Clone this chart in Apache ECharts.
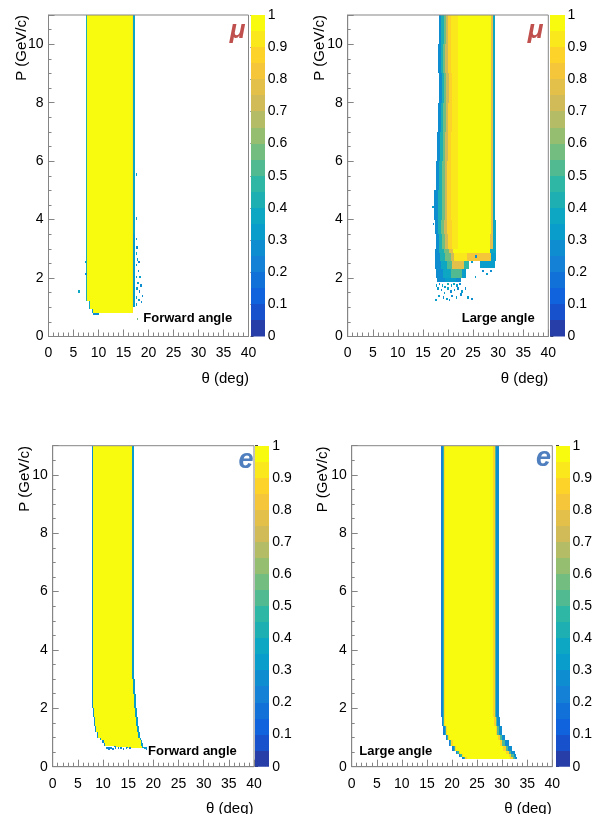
<!DOCTYPE html>
<html><head><meta charset="utf-8">
<script src="https://cdn.jsdelivr.net/npm/echarts@6/dist/echarts.min.js"></script>
<style>html,body{margin:0;padding:0;background:#fff}#c{width:595px;height:814px}</style>
</head><body><div id="c"></div>
<script>
// ---------------- DATA ----------------
const thetaTicks = [0, 5, 10, 15, 20, 25, 30, 35, 40];
const pTicks = [0, 2, 4, 6, 8, 10];
const zTicks = [0, 0.1, 0.2, 0.3, 0.4, 0.5, 0.6, 0.7, 0.8, 0.9, 1];

// Forward-angle muons: rectangles [theta0, theta1, P0, P1, efficiency]
const muFwdStrips = [
  [7.6, 16.6, 1.2, 11, 1.0],
  [8.2, 16.6, 0.95, 1.2, 1.0],
  [8.8, 16.6, 0.8, 0.95, 1.0],
  [16.6, 16.8, 0.8, 11, 0.92],
  [16.8, 17.3, 3.5, 11, 0.35],
  [16.8, 17.3, 1.0, 3.5, 0.3],
  [7.4, 7.6, 1.2, 11, 0.4],
  [8.0, 8.2, 0.95, 1.2, 0.35],
  [8.6, 8.8, 0.8, 0.95, 0.3],
  [8.8, 10.0, 0.74, 0.8, 0.25]
];
// isolated filled bins [theta, P, efficiency]
const muFwdSpecks = [
  [17.4,3.3,0.3],[17.5,3.0,0.25],[17.4,2.8,0.35],[17.6,2.6,0.3],[17.9,2.5,0.2],[17.4,2.4,0.3],
  [17.8,2.2,0.25],[18.1,2.0,0.3],[17.4,2.0,0.35],[17.7,1.8,0.3],[18.3,1.7,0.25],[17.5,1.6,0.3],
  [18.0,1.5,0.2],[18.6,1.35,0.25],[17.4,1.3,0.35],[17.9,1.2,0.3],[18.4,1.15,0.25],[17.4,1.05,0.3],
  [5.9,1.5,0.35],[17.6,0.55,0.55],[7.2,2.5,0.3],[7.3,2.1,0.25],[17.4,4.0,0.3],[17.4,5.5,0.3]
];

// Large-angle muons, P > 3: rows [P0, P1, theta edges...], one efficiency per strip
const muLargeRows = [
  [10, 11, 18.2, 18.7, 19.2, 19.6, 20.0, 20.6, 22.0, 28.5, 28.9, 29.4],
  [9, 10, 18.0, 18.6, 19.1, 19.5, 20.0, 20.6, 22.0, 28.5, 28.9, 29.3],
  [8, 9, 18.3, 18.8, 19.2, 19.6, 20.1, 20.7, 22.0, 28.5, 28.9, 29.4],
  [7, 8, 18.1, 18.7, 19.1, 19.6, 20.0, 20.7, 22.0, 28.5, 28.9, 29.4],
  [6, 7, 17.9, 18.5, 19.0, 19.5, 20.0, 20.6, 22.0, 28.5, 28.9, 29.3],
  [5, 6, 17.6, 18.3, 18.9, 19.4, 19.9, 20.6, 22.0, 28.5, 28.9, 29.4],
  [4, 5, 17.2, 18.1, 18.8, 19.4, 19.9, 20.6, 22.0, 28.5, 28.9, 29.4],
  [3.5, 4, 17.4, 18.0, 18.7, 19.3, 19.9, 20.7, 22.0, 28.5, 28.9, 29.5],
  [3.0, 3.5, 17.6, 18.2, 18.8, 19.4, 20.0, 20.8, 22.0, 28.4, 28.9, 29.5]
];
const muLargeEff = [0.25, 0.4, 0.55, 0.7, 0.85, 0.93, 1.0, 0.75, 0.35];
// Large-angle muons, P < 3: rectangles [theta0, theta1, P0, P1, efficiency]
const muLargeStrips = [
  [17.5, 18.3, 2.85, 3.0, 0.25], [18.3, 19.2, 2.85, 3.0, 0.4], [19.2, 20.2, 2.85, 3.0, 0.55],
  [20.2, 21.0, 2.85, 3.0, 0.75], [21.0, 28.4, 2.85, 3.0, 0.97], [28.4, 29.5, 2.85, 3.0, 0.35],
  [17.5, 18.5, 2.6, 2.85, 0.25], [18.5, 19.5, 2.6, 2.85, 0.4], [19.5, 20.5, 2.6, 2.85, 0.55],
  [20.5, 21.2, 2.6, 2.85, 0.7], [21.2, 23.8, 2.6, 2.85, 0.9], [23.8, 28.6, 2.6, 2.85, 0.8],
  [28.6, 29.5, 2.6, 2.85, 0.3],
  [17.4, 18.6, 2.3, 2.6, 0.25], [18.6, 19.8, 2.3, 2.6, 0.35], [19.8, 20.8, 2.3, 2.6, 0.5],
  [20.8, 23.2, 2.3, 2.6, 0.75], [23.2, 24.2, 2.3, 2.6, 0.45], [26.4, 29.4, 2.35, 2.6, 0.3],
  [17.6, 19.0, 2.0, 2.3, 0.25], [19.0, 20.6, 2.0, 2.3, 0.35], [20.6, 22.8, 2.0, 2.3, 0.5],
  [22.8, 23.6, 2.0, 2.3, 0.3],
  [17.8, 19.5, 1.85, 2.0, 0.25], [19.5, 21.5, 1.85, 2.0, 0.3], [21.5, 22.5, 1.85, 2.0, 0.25]
];
const muLargeSpecks = [
  [17.6,1.7,0.3],[18.2,1.75,0.25],[18.8,1.7,0.35],[19.3,1.65,0.3],[19.9,1.75,0.4],[20.5,1.7,0.3],
  [21.0,1.75,0.35],[21.6,1.7,0.3],[22.2,1.75,0.25],[17.9,1.6,0.3],[18.6,1.55,0.25],[19.2,1.45,0.3],
  [19.8,1.6,0.35],[20.4,1.5,0.25],[21.1,1.55,0.3],[21.8,1.6,0.25],[22.6,1.5,0.3],[23.3,1.6,0.25],
  [18.1,1.35,0.3],[19.0,1.3,0.25],[19.7,1.25,0.3],[20.6,1.35,0.25],[21.5,1.3,0.3],[22.4,1.4,0.25],
  [23.8,1.3,0.3],[24.6,1.25,0.25],[17.5,1.2,0.3],[20.1,1.2,0.25],[16.9,4.4,0.3],[17.0,3.8,0.25],
  [26.8,2.2,0.25],[27.6,2.1,0.3],[28.4,2.2,0.25],[25.3,2.0,0.3],[24.6,2.5,0.3],[25.4,2.7,0.25]
];

// Forward-angle electrons: rows [P0, P1, theta edges...]; one efficiency per strip
const eFwdRows = [
  [3.0, 11.0, 7.75, 8.0, 15.8, 16.1],
  [2.5, 3.0, 7.8, 8.05, 16.0, 16.3],
  [2.0, 2.5, 7.85, 8.1, 16.2, 16.5],
  [1.7, 2.0, 7.95, 8.2, 16.4, 16.7],
  [1.4, 1.7, 8.15, 8.4, 16.6, 16.9],
  [1.2, 1.4, 8.45, 8.7, 16.8, 17.1],
  [1.0, 1.2, 8.8, 9.1, 17.0, 17.3],
  [0.9, 1.0, 9.3, 9.6, 17.3, 17.6],
  [0.8, 0.9, 9.8, 10.1, 17.5, 17.8],
  [0.72, 0.8, 10.1, 10.4, 17.6, 17.9],
  [0.67, 0.72, 12.2, 12.5, 17.7, 18.0],
  [0.63, 0.67, 14.7, 15.0, 17.8, 18.2]
];
const eFwdEff = [0.25, 1.0, 0.3];
const eFwdSpecks = [
  [10.6,0.6,0.25],[11.0,0.58,0.2],[11.4,0.61,0.25],[11.8,0.57,0.2],[12.3,0.6,0.25],[12.9,0.59,0.2],
  [13.4,0.61,0.25],[13.9,0.57,0.2],[14.5,0.6,0.25],[15.2,0.61,0.2],[18.2,0.6,0.3],[18.5,0.58,0.25]
];

// Large-angle electrons
const eLargeRows = [
  [1.7, 11, 17.9, 18.2, 18.4, 18.6, 28.2, 28.5, 28.8, 29.3],
  [1.4, 1.7, 18.0, 18.3, 18.5, 18.7, 28.4, 28.7, 29.0, 29.6],
  [1.1, 1.4, 18.3, 18.6, 18.8, 19.0, 28.7, 29.0, 29.4, 30.0],
  [0.9, 1.1, 18.8, 19.1, 19.3, 19.5, 29.1, 29.5, 29.9, 30.6],
  [0.7, 0.9, 19.4, 19.7, 19.9, 20.1, 29.6, 30.0, 30.5, 31.3],
  [0.55, 0.7, 20.0, 20.3, 20.5, 20.8, 30.2, 30.7, 31.2, 31.9],
  [0.42, 0.55, 20.7, 21.0, 21.3, 21.6, 30.8, 31.3, 31.8, 32.5],
  [0.34, 0.42, 21.3, 21.6, 21.9, 22.2, 31.3, 31.8, 32.3, 32.8],
  [0.28, 0.34, 22.0, 22.3, 22.6, 22.9, 31.6, 32.1, 32.5, 33.0]
];
const eLargeEff = [0.22, 0.45, 0.85, 1.0, 0.85, 0.5, 0.25];

// ---------------- helpers ----------------
const FONT = "'Liberation Sans', Arial, Helvetica, sans-serif";
const speckW = 0.3, speckH = 0.08; // one histogram bin
function fromSpecks(sp) { return sp.map(s => [s[0], s[0] + speckW, s[1], s[1] + speckH, s[2]]); }
function fromRows(rows, eff) {
  const out = [];
  rows.forEach(r => { for (let k = 0; k < eff.length; k++) out.push([r[2 + k], r[3 + k], r[0], r[1], eff[k]]); });
  return out;
}
const panelData = [
  muFwdStrips.concat(fromSpecks(muFwdSpecks)),
  fromRows(muLargeRows, muLargeEff).concat(muLargeStrips, fromSpecks(muLargeSpecks)),
  fromRows(eFwdRows, eFwdEff).concat(fromSpecks(eFwdSpecks)),
  fromRows(eLargeRows, eLargeEff)
];
const colorbarData = [];
for (let i = 0; i < 20; i++) colorbarData.push([0, 1, i / 20, (i + 1) / 20, (i + 0.5) / 20]);

// ROOT kBird palette, 20 contour levels
const bS = [0, 0.125, 0.25, 0.375, 0.5, 0.625, 0.75, 0.875, 1];
const bR = [0.2082, 0.0592, 0.0780, 0.0232, 0.1802, 0.5301, 0.8186, 0.9956, 0.9764];
const bG = [0.1664, 0.3599, 0.5041, 0.6419, 0.7178, 0.7492, 0.7328, 0.7862, 0.9832];
const bB = [0.5293, 0.8684, 0.8385, 0.7914, 0.6425, 0.4662, 0.3499, 0.1968, 0.0539];
function bird(t) {
  const k = Math.min(7, Math.floor(t * 8));
  const f = (t - bS[k]) / 0.125;
  const c = a => Math.round(255 * (a[k] + (a[k + 1] - a[k]) * f));
  return 'rgb(' + c(bR) + ',' + c(bG) + ',' + c(bB) + ')';
}
const pieces = [];
for (let i = 0; i < 20; i++) {
  const t = Math.floor((i + 0.99) * 12.75) / 254;
  const p = { gte: i / 20, color: bird(Math.min(1, t)) };
  if (i < 19) p.lt = (i + 1) / 20; else p.lte = 1;
  pieces.push(p);
}

function renderCell(params, api) {
  const a = api.coord([api.value(0), api.value(3)]);
  const b = api.coord([api.value(1), api.value(2)]);
  let x0 = Math.round(a[0]), x1 = Math.round(b[0]), y0 = Math.round(a[1]), y1 = Math.round(b[1]);
  if (x1 <= x0) x1 = x0 + 1;
  if (y1 <= y0) y1 = y0 + 1;
  return { type: 'rect', shape: { x: x0, y: y0, width: x1 - x0, height: y1 - y0 },
           style: { fill: api.visual('color') } };
}

// layout (pixels)
const plots = [
  { left: 48.5, top: 15, width: 200, height: 321.5, cb: 250.5 },
  { left: 347.7, top: 15, width: 200.6, height: 321.5, cb: 550.3 },
  { left: 52.7, top: 445.7, width: 201.3, height: 321, cb: 255 },
  { left: 351.7, top: 445.7, width: 200.6, height: 321, cb: 556 }
];
const GRAY = '#858585';
const grids = [], xAxes = [], yAxes = [], series = [];
plots.forEach((p, i) => {
  grids.push({ left: p.left, top: p.top, width: p.width, height: p.height, show: true, borderColor: GRAY, borderWidth: 1, z: 10, containLabel: false });
  xAxes.push({ gridIndex: 2 * i, type: 'value', min: thetaTicks[0], max: thetaTicks[thetaTicks.length - 1], interval: thetaTicks[1] - thetaTicks[0], z: 10,
    axisLine: { show: true, onZero: false, lineStyle: { color: GRAY } },
    axisTick: { show: true, inside: true, length: 7, lineStyle: { color: GRAY } },
    minorTick: { show: true, splitNumber: 5, length: 4, lineStyle: { color: GRAY } },
    splitLine: { show: false }, minorSplitLine: { show: false },
    axisLabel: { color: '#000', fontSize: 14, fontFamily: FONT, margin: 10 } });
  yAxes.push({ gridIndex: 2 * i, type: 'value', min: 0, max: 11, interval: pTicks[1] - pTicks[0], z: 10,
    axisLine: { show: true, onZero: false, lineStyle: { color: GRAY } },
    axisTick: { show: true, inside: true, length: 6, lineStyle: { color: GRAY } },
    minorTick: { show: true, splitNumber: 4, length: 3, lineStyle: { color: GRAY } },
    splitLine: { show: false }, minorSplitLine: { show: false },
    axisLabel: { color: '#000', fontSize: 14, fontFamily: FONT, margin: 5, formatter: v => (pTicks.indexOf(v) >= 0 ? String(v) : '') } });
  series.push({ type: 'custom', xAxisIndex: 2 * i, yAxisIndex: 2 * i, renderItem: renderCell, clip: true,
    dimensions: ['t0', 't1', 'p0', 'p1', 'eff'], encode: { x: [0, 1], y: [2, 3] }, data: panelData[i], silent: true });
  grids.push({ left: p.cb, top: p.top, width: 14.3, height: p.height, show: false });
  xAxes.push({ gridIndex: 2 * i + 1, type: 'value', min: 0, max: 1, show: false });
  yAxes.push({ gridIndex: 2 * i + 1, type: 'value', position: 'right', min: zTicks[0], max: zTicks[zTicks.length - 1], interval: 0.1,
    axisLine: { show: false }, axisTick: { show: true, inside: false, length: 3, lineStyle: { color: '#444' } },
    splitLine: { show: false },
    axisLabel: { color: '#000', fontSize: 14, fontFamily: FONT, margin: 3, formatter: v => String(+v.toFixed(1)) } });
  series.push({ type: 'custom', xAxisIndex: 2 * i + 1, yAxisIndex: 2 * i + 1, renderItem: renderCell, clip: true,
    dimensions: ['t0', 't1', 'p0', 'p1', 'eff'], encode: { x: [0, 1], y: [2, 3] }, data: colorbarData, silent: true });
});

const texts = [];
function txt(x, y, s, opt) { texts.push({ type: 'text', x: x, y: y, z: 20, style: Object.assign({ text: s, fill: '#000', font: '15px ' + FONT, align: 'left', verticalAlign: 'middle' }, opt || {}) }); }
[[249, 379], [548.3, 379], [253.5, 809], [551.7, 809]].forEach(q => txt(q[0], q[1], 'θ (deg)', { align: 'right' }));
[[22, 15], [320, 15], [25, 446], [323.3, 446.5]].forEach(q => texts.push({ type: 'text', x: q[0], y: q[1], rotation: Math.PI / 2, z: 20,
  style: { text: 'P (GeV/c)', fill: '#000', font: '15px ' + FONT, align: 'right', verticalAlign: 'middle' } }));
txt(143.3, 318, 'Forward angle', { font: 'bold 13px ' + FONT });
txt(461.7, 318, 'Large angle', { font: 'bold 13px ' + FONT });
txt(148, 751.7, 'Forward angle', { font: 'bold 13px ' + FONT });
txt(359.3, 751.7, 'Large angle', { font: 'bold 13px ' + FONT });
txt(237.5, 31, 'μ', { font: 'italic bold 26px ' + FONT, fill: '#c0504d', align: 'center' });
txt(535.5, 31, 'μ', { font: 'italic bold 26px ' + FONT, fill: '#c0504d', align: 'center' });
txt(246, 461, 'e', { font: 'italic bold 27px ' + FONT, fill: '#4f7fbe', align: 'center' });
txt(543.5, 459, 'e', { font: 'italic bold 27px ' + FONT, fill: '#4f7fbe', align: 'center' });

const chart = echarts.init(document.getElementById('c'), null, { renderer: 'canvas' });
chart.setOption({
  animation: false,
  backgroundColor: '#fff',
  grid: grids, xAxis: xAxes, yAxis: yAxes, series: series,
  visualMap: [{ type: 'piecewise', show: false, dimension: 4, seriesIndex: series.map((s, i) => i), pieces: pieces }],
  graphic: texts
});
</script></body></html>
